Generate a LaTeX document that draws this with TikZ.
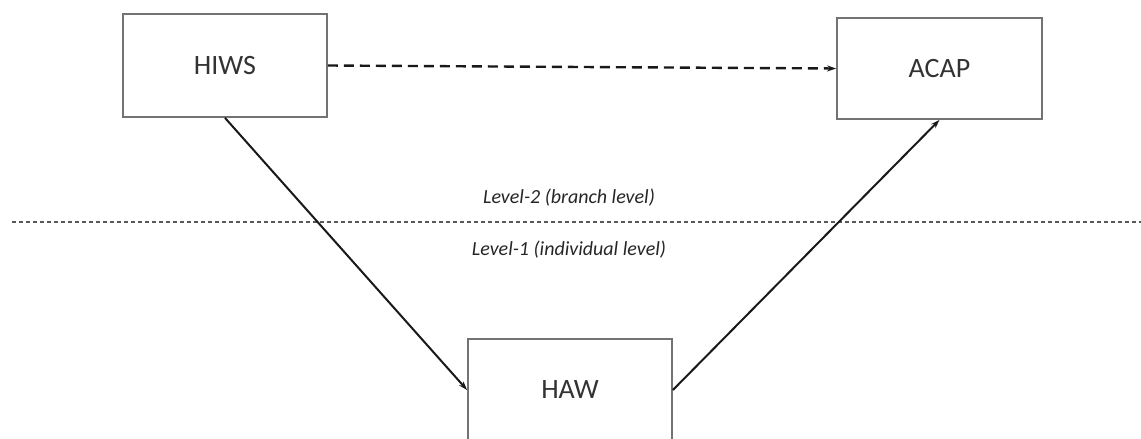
\documentclass[tikz,border=0pt]{standalone}
\usepackage{fontspec}
\setmainfont{Carlito}
\usetikzlibrary{positioning,arrows.meta}
\begin{document}
\begin{tikzpicture}[x=1pt, y=-1pt, every node/.style={font=\fontsize{28}{32}\selectfont, text=black!80}]
\tikzstyle{box}=[draw=black!55, line width=1.8pt, minimum width=204pt, minimum height=103pt, inner sep=0pt]
\tikzstyle{level}=[font=\fontsize{20}{24}\selectfont\itshape, text=black!85]
\tikzstyle{link}=[-{Stealth[length=9pt, width=6pt]}, line width=2pt, black!90]
\useasboundingbox (0,0) rectangle (1141,439);
\node[box] (hiws) at (225,65.5) {HIWS};
\node[box, minimum width=205pt, minimum height=101pt] (acap) at (939.5,68.5) {ACAP};
\node[box, minimum height=102pt] (haw) at (570,390) {HAW};
% level divider
\coordinate (divl) at (12,222); \coordinate (divr) at (1141,222);
\draw[black!65, line width=1.2pt, dash pattern=on 4pt off 3pt] (divl) -- (divr);
\node[level] (lvtwo) at (569,198) {Level-2 (branch level)};
\node[level] (lvone) at (569,250) {Level-1 (individual level)};
\draw[link, line width=2.4pt, dash pattern=on 10pt off 6pt] (hiws.east) -- (acap.west);
\draw[link] (hiws.south) -- (haw.west); \draw[link] (haw.east) -- (acap.south);
\end{tikzpicture}
\end{document}
